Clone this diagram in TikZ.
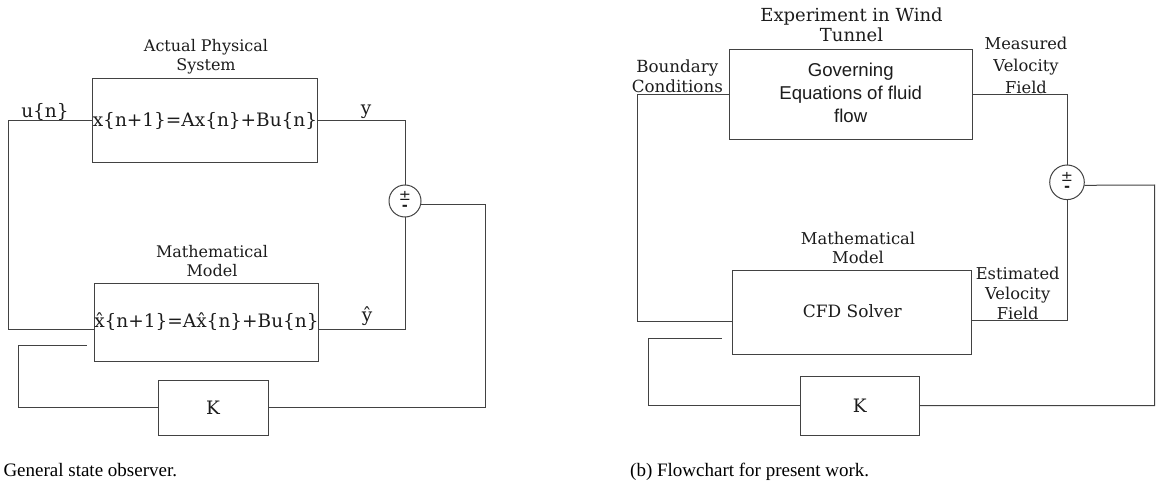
\documentclass[tikz,border=0pt]{standalone}
\usepackage{fontspec}
\newfontfamily\dserif{DejaVu Serif}
\newfontfamily\lsans{Liberation Sans}
\newfontfamily\dsans{DejaVu Sans}
\newfontfamily\lserif{Liberation Serif}
\definecolor{ln}{RGB}{66,66,66}
\definecolor{tx}{RGB}{28,28,28}
\tikzset{
  wire/.style={draw=ln, line width=1pt, line cap=rect},
  blk/.style={draw=ln, line width=1pt, inner sep=0pt, text=tx, font=\dserif\fontsize{18.5}{22}\selectfont},
  lbl/.style={inner sep=0pt, text=tx, align=center, font=\dserif\fontsize{16}{19}\selectfont},
  sig/.style={inner sep=0pt, text=tx, font=\dserif\fontsize{18.5}{22}\selectfont},
  sumj/.style={circle, draw=ln, line width=1pt, inner sep=0pt},
  pm/.style={inner sep=0pt, anchor=base, text=tx, text height=10pt, text depth=0pt, font=\dsans\fontsize{14.5}{14}\selectfont},
  mn/.style={inner sep=0pt, anchor=base, text=tx, text height=5.5pt, text depth=0pt, font=\dsans\bfseries\fontsize{14.5}{14}\selectfont},
  captxt/.style={inner sep=0pt, anchor=base west, text=black, font=\lserif\fontsize{19}{22}\selectfont}
}
\begin{document}
\begin{tikzpicture}[x=1pt,y=-1pt]
\useasboundingbox (0,0) rectangle (1156,484);

% ---------- general state observer ----------
\node[blk, minimum width=224pt, minimum height=83pt] (sys) at (205,120.5) {x\{n+1\}=Ax\{n\}+Bu\{n\}};
\node[lbl] (sysT) at (206,56.5) {Actual Physical\\System};
\node[blk, minimum width=221pt, minimum height=78pt] (mdl) at (206.5,322) {x̂\{n+1\}=Ax̂\{n\}+Bu\{n\}};
\node[lbl] (mdlT) at (212,261) {Mathematical\\Model};
\node[sig] (un) at (45,112) {u\{n\}};
\node[sig] (yy) at (366,112) {y};
\node[sig] (yh) at (367,316) {ŷ};
\node[sumj, minimum size=32pt] (s1) at (405,201) {};
\node[pm] (s1p) at (405,200) {±};
\node[mn] (s1m) at (405,210) {-};
\node[blk, minimum width=110pt, minimum height=55pt] (k1) at (213,407.5) {K};
\coordinate (fb1) at (86,345);

\draw[wire] (sys.west) -- (8,120.5) |- ([yshift=-7pt]mdl.west);
\draw[wire] (sys.east) -| (s1.north);
\draw[wire] ([yshift=-7pt]mdl.east) -| (s1.south);
\draw[wire] ([yshift=-3pt]s1.east) -- (485,204) |- (k1.east);
\draw[wire] (k1.west) -| (18,345) -- (fb1);

% ---------- flowchart for present work ----------
\node[blk, minimum width=242.7pt, minimum height=90pt, align=center,
      font=\lsans\fontsize{18.6}{22.8}\selectfont] (exp) at (850.7,95) {\raisebox{3pt}{\begin{tabular}{@{}c@{}}Governing\\Equations of fluid\\flow\end{tabular}}};
\node[lbl, font=\dserif\fontsize{18}{20}\selectfont] (expT) at (851.5,25) {Experiment in Wind\\Tunnel};
\node[lbl, font=\dserif\fontsize{16.7}{19.3}\selectfont] (bc) at (677.3,76.3) {Boundary\\Conditions};
\node[lbl, font=\dserif\fontsize{16.3}{21.7}\selectfont] (mv) at (1026,65.3) {Measured\\Velocity\\Field};
\node[blk, minimum width=239.3pt, minimum height=84.3pt, font=\dserif\fontsize{17}{20}\selectfont] (cfd) at (852.3,312.8) {\raisebox{3pt}{CFD Solver}};
\node[lbl, font=\dserif\fontsize{16.3}{19.4}\selectfont] (cfdT) at (858,248) {Mathematical\\Model};
\node[lbl, font=\dserif\fontsize{16.3}{20}\selectfont] (ev) at (1017.7,293.3) {Estimated\\Velocity\\Field};
\node[sumj, minimum size=34.6pt] (s2) at (1067,182.3) {};
\node[pm] (s2p) at (1067,181.5) {±};
\node[mn] (s2m) at (1067,191.5) {-};
\node[blk, minimum width=119.3pt, minimum height=59pt] (k2) at (859.7,405.5) {K};
\coordinate (fb2) at (721.7,338.3);

\draw[wire] (exp.west) -- (637.3,95) |- ([yshift=-9pt]cfd.west);
\draw[wire] (exp.east) -| (s2.north);
\draw[wire] ([yshift=-8pt]cfd.east) -| (s2.south);
\draw[wire] ([yshift=-3pt]s2.east) -- (1154.5,185) |- (k2.east);
\draw[wire] (k2.west) -| (648.7,338.3) -- (fb2);

% ---------- captions ----------
\node[captxt] (c1) at (3.3,476) {General state observer.};
\node[captxt] (c2) at (630,476) {(b) Flowchart for present work.};
\end{tikzpicture}
\end{document}
